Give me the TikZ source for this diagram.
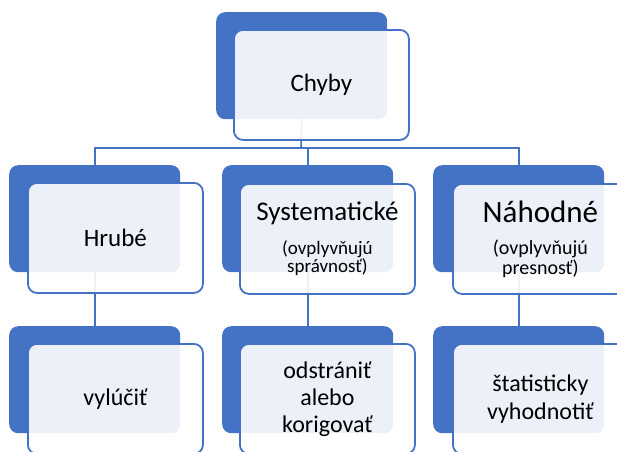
\documentclass[tikz,border=0pt]{standalone}
\usepackage{fontspec}
\setmainfont{Carlito}
\usetikzlibrary{backgrounds}
\definecolor{boxblue}{HTML}{4472C4}
\newcommand{\fsz}[2]{\fontsize{#1}{#2}\selectfont}

\begin{document}
\begin{tikzpicture}[x=1pt,y=-1pt,
    backbox/.style={fill=boxblue, rounded corners=9pt, inner sep=0pt,
      minimum width=171pt, minimum height=107pt, anchor=north west},
    frontbox/.style={draw=boxblue, line width=1.8pt, fill=white, fill opacity=0.9,
      text opacity=1, rounded corners=9pt, inner sep=0pt, align=center,
      minimum width=175pt, minimum height=110pt, anchor=north west},
    conn/.style={draw=boxblue, line width=1.6pt}]
    \useasboundingbox (0,0) rectangle (617,451);

    % top
    \node[backbox] (chybyB) at (216,12) {};
    \node[frontbox, font=\fsz{25}{30}] (chybyF) at (233,29) {Chyby};

    % middle row
    \node[backbox] (hrubeB) at (9,165) {};
    \node[frontbox, font=\fsz{25}{30}] (hrubeF) at (27,182) {Hrubé};
    \node[backbox] (systemB) at (222,165) {};
    \node[frontbox] (systemF) at (239,183) {\fsz{27}{30}Systematické\\[15pt]
      \fsz{19}{21}(ovplyvňujú\\\fsz{19}{21}správnosť)};
    \node[backbox] (nahodneB) at (433,165) {};
    \node[frontbox] (nahodneF) at (452,183) {\fsz{31}{32}Náhodné\\[17pt]
      \fsz{20}{19}(ovplyvňujú\\\fsz{20}{19}presnosť)};

    % bottom row
    \node[backbox] (vylucitB) at (9,326) {};
    \node[frontbox, font=\fsz{24}{27}] (vylucitF) at (27,343) {vylúčiť};
    \node[backbox] (odstranitB) at (222,326) {};
    \node[frontbox, font=\fsz{24}{27}] (odstranitF) at (239,343) {odstrániť\\alebo\\korigovať};
    \node[backbox] (statB) at (433,326) {};
    \node[frontbox, font=\fsz{24}{28}] (statF) at (452,343) {štatisticky\\vyhodnotiť};

    % connectors
    \coordinate (bus) at (301,148);
    \begin{scope}[on background layer]
      \draw[conn] (chybyB.south) -- (bus);
      \draw[conn] (hrubeB.north) |- (bus) -| (nahodneB.north);
      \draw[conn] (systemB.north) -- (systemB.north |- bus);
      \draw[conn] (hrubeB.south) -- (vylucitB.north);
      \draw[conn] (systemB.south) -- (odstranitB.north);
      \draw[conn] (nahodneB.south) -- (statB.north);
    \end{scope}
\end{tikzpicture}
\end{document}
